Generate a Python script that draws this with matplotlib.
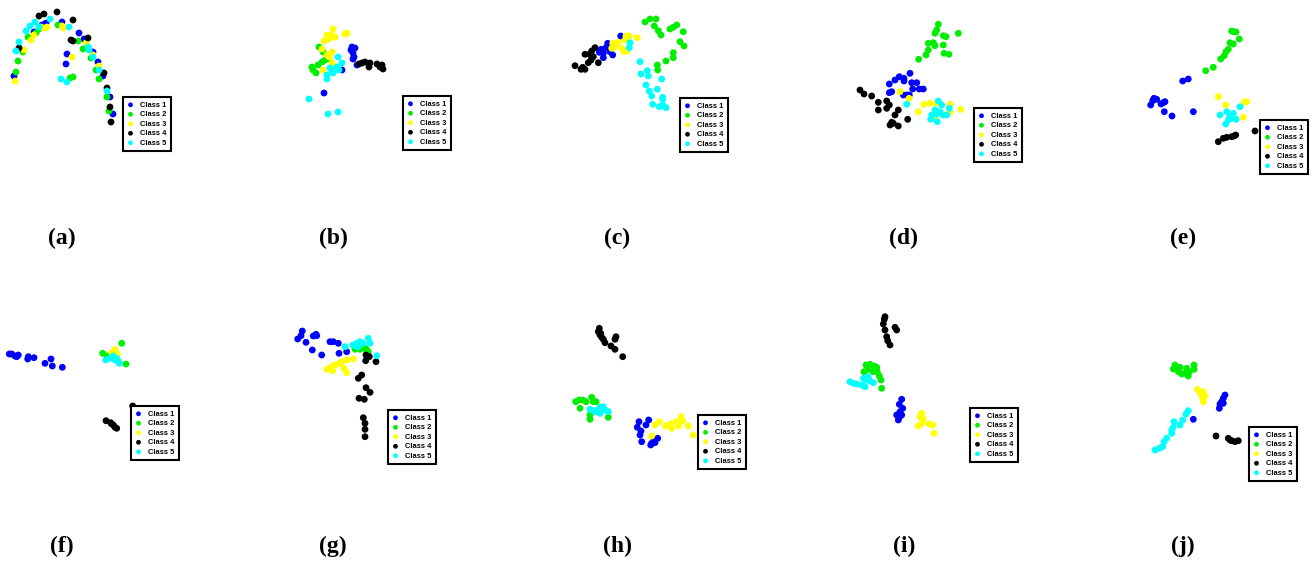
import matplotlib
matplotlib.use("Agg")
import matplotlib.pyplot as plt

classes = ["Class 1", "Class 2", "Class 3", "Class 4", "Class 5"]
colors = ["#0000ff", "#00ee00", "#ffff00", "#000000", "#00ffff"]
labels = ["(a)", "(b)", "(c)", "(d)", "(e)", "(f)", "(g)", "(h)", "(i)", "(j)"]

# embedding coordinates per panel (x right, y down), one list per class
panel_a = {
    "Class 1": [(42, 25), (46, 23), (62, 22), (34, 32), (79, 33), (84, 39), (67, 54), (66, 64),
                (93, 52), (98, 62), (103, 76), (14, 76), (110, 97), (113, 114)],
    "Class 2": [(39, 29), (28, 37), (58, 25), (78, 41), (83, 49), (23, 52), (18, 61), (16, 72),
                (91, 58), (96, 70), (99, 79), (70, 78), (73, 77), (107, 97), (109, 111), (36, 33)],
    "Class 3": [(45, 28), (47, 27), (63, 28), (62, 26), (34, 35), (31, 40), (24, 50), (72, 57),
                (86, 43), (93, 55), (99, 66), (15, 81), (41, 27)],
    "Class 4": [(39, 16), (44, 14), (57, 12), (73, 20), (71, 40), (73, 41), (88, 38), (19, 48),
                (104, 73), (107, 88), (110, 107), (111, 122)],
    "Class 5": [(50, 19), (35, 22), (30, 26), (26, 31), (19, 42), (16, 51), (69, 27), (88, 47),
                (93, 57), (99, 70), (61, 79), (67, 82), (107, 91), (39, 27), (89, 50)],
}
panel_b = {
    "Class 1": [(89, 47), (92, 48), (88, 50), (90, 53), (91, 57), (90, 59), (94, 65), (79, 70), (61, 93)],
    "Class 2": [(56, 47), (60, 52), (59, 62), (55, 65), (50, 70), (53, 73), (62, 60), (65, 59), (49, 67)],
    "Class 3": [(70, 29), (64, 35), (69, 35), (72, 37), (66, 39), (61, 41), (82, 34), (84, 33),
                (59, 49), (69, 52), (64, 55), (66, 57), (60, 70), (69, 63)],
    "Class 4": [(99, 63), (102, 62), (107, 63), (106, 67), (114, 64), (119, 65), (120, 69), (117, 67), (96, 64)],
    "Class 5": [(75, 57), (79, 63), (74, 67), (69, 70), (70, 73), (64, 75), (64, 79), (76, 70),
                (46, 99), (65, 114), (75, 112), (67, 68)],
}
panel_c = {
    "Class 1": [(94.7, 36), (81.7, 43.3), (80, 47.7), (75, 49.3), (77.3, 53.3), (84, 51.7), (86.7, 55),
                (77.3, 57.7), (73.3, 52.3), (82.3, 47.3)],
    "Class 2": [(119, 22), (124, 19), (130, 19), (128.3, 26), (132.3, 30.7), (135, 35), (144, 29),
                (147.3, 27.3), (150.7, 25), (157.3, 31.7), (154, 41.7), (158, 46), (147.3, 52.7),
                (147.3, 57.7), (140, 61), (131.3, 65), (131.7, 70)],
    "Class 3": [(100, 36), (103.3, 36), (111.3, 37.7), (99, 40), (92.3, 42.3), (86.7, 43.3), (95.7, 48.3),
                (98, 51.7), (100.7, 51), (85.7, 48.3), (89, 46.7)],
    "Class 4": [(69, 47.7), (65.7, 51), (63.3, 54.3), (59, 54.3), (65, 60), (72.3, 62.7), (62.3, 62.7),
                (49, 65.7), (56.7, 67.3), (59, 69.3), (55, 69.3), (67.3, 56.7)],
    "Class 5": [(114, 61.7), (121.3, 70.7), (115, 74), (122.3, 76), (135.7, 79), (120, 85), (131.3, 89.3),
                (123.3, 91), (125.7, 96), (136.7, 97.3), (136.7, 99.3), (126.7, 104.3), (133.3, 106.7),
                (140, 107.7), (136.7, 105), (104, 42.7), (103.3, 47.7)],
}
panel_d = {
    "Class 1": [(121, 73.3), (110.3, 76.7), (115, 78.3), (106, 80), (100.3, 84), (115, 81), (127.7, 82.7),
                (122.7, 82.7), (123.7, 89), (130.3, 89), (134.3, 89), (102.7, 91.7), (100.3, 92.7),
                (114.3, 95), (117.7, 95), (120.3, 95)],
    "Class 2": [(149.3, 24.3), (147.7, 30), (146, 33.3), (154.3, 35.7), (157, 36.7), (169.3, 33.3),
                (139.3, 43.3), (144.3, 42.7), (146, 45.7), (154.3, 45), (139.3, 50), (137, 55),
                (155, 53.3), (160, 54.3), (129.7, 59.3)],
    "Class 3": [(111, 91.7), (120, 98.3), (135, 104.3), (141, 103.3), (129.3, 111.7), (161, 104.3),
                (171.7, 109.3), (147.7, 103.3), (161, 111.7), (146, 116.7)],
    "Class 4": [(71, 90), (75, 94), (82.7, 96), (89.3, 102.3), (97.7, 101), (100.3, 105), (89.3, 110),
                (97.7, 108.3), (109.3, 110), (106, 115), (102.7, 122.3), (104.3, 123.3), (101, 125),
                (109.3, 126), (118.7, 119.3)],
    "Class 5": [(117.7, 104.3), (149.3, 101), (152.7, 105), (146, 110), (151, 111.7), (154.3, 115),
                (142.7, 115), (157.7, 115), (141.7, 119.3), (148.3, 121.7), (160.3, 108.3), (147.7, 114.3)],
}
panel_e = {
    "Class 1": [(136.3, 79), (130.7, 81), (102, 98.3), (104.7, 99.3), (100.7, 100.7), (111.3, 102.7),
                (113, 101.7), (109, 104), (98.7, 105), (112.3, 111.7), (120, 116), (141.3, 111.7)],
    "Class 2": [(181.3, 31.7), (179.7, 31), (184, 32), (187.3, 39), (178, 42.7), (181.3, 44), (176.3, 49.3),
                (174, 51.7), (172.3, 55.7), (168.7, 59), (161.3, 67.3), (153.7, 70.7)],
    "Class 3": [(166.3, 96.7), (173.7, 105), (192.3, 102.3), (194.7, 101.7), (178, 115), (191.3, 117.3)],
    "Class 4": [(203, 131), (183.7, 135), (179.7, 136.7), (174.7, 137.3), (171.3, 138.3), (166.3, 141.7),
                (182, 136)],
    "Class 5": [(188, 106.7), (174.7, 111.7), (168, 115), (181.3, 113.3), (176.3, 120), (179.7, 118.3),
                (184, 119.3), (173.7, 124), (178, 116.7)],
}
panel_f = {
    "Class 1": [(11.7, 46), (15, 48), (18.3, 47), (9.3, 46), (28.3, 48.7), (27.7, 51), (34, 49.7), (51, 51),
                (45, 55.3), (52.3, 58), (62.3, 59.3), (16.7, 48.7)],
    "Class 2": [(121.7, 35.3), (102.7, 45.3), (107.3, 48), (126, 56), (115, 43.7)],
    "Class 3": [(115, 41.3), (111.7, 44.7), (117.3, 46)],
    "Class 4": [(132.7, 98), (106, 112.7), (110.7, 114.7), (113.3, 117), (115, 119.3), (111.7, 116),
                (116.7, 120.3)],
    "Class 5": [(113.3, 48), (116.7, 50.3), (110, 50.3), (105.7, 52), (119.3, 55.3), (115, 52), (118.3, 53)],
}
panel_g = {
    "Class 1": [(39.3, 23), (38, 27.7), (34.7, 31), (43, 34.3), (50.3, 28), (53, 26.3), (53.7, 27.7),
                (67, 33.7), (70.3, 33.7), (75.3, 35.3), (49.3, 42), (58.7, 47), (76, 45.3), (83.7, 43.7)],
    "Class 2": [(92, 41.3), (97, 41.3), (102, 40.3), (105.3, 43.7), (103.7, 42)],
    "Class 3": [(63.7, 61.3), (68.7, 58.7), (69.7, 62.7), (72, 57), (76.3, 55.3), (78.7, 53.7), (83.7, 52),
                (90.3, 51), (81, 60.3), (83.7, 64.7), (67, 60.3)],
    "Class 4": [(103, 47), (106.3, 48.7), (102.7, 52.7), (113, 53.7), (98.7, 67), (95.3, 70.3), (103, 79.7),
                (107, 84.3), (96, 90.3), (101.3, 91.3), (100.3, 109.7), (102, 115.3), (102, 121.3),
                (102, 128.7)],
    "Class 5": [(82, 38.7), (89.7, 37), (93.7, 35.3), (97, 33.7), (100.3, 35.3), (105.3, 30.3), (107, 35.3),
                (95.3, 38.7), (113.7, 47.7), (93, 38)],
}
panel_h = {
    "Class 1": [(113, 113.7), (122.7, 112), (111.3, 119.3), (120, 117), (115, 123), (114, 127), (115.7, 133.7),
                (124.7, 137), (128, 132), (131.7, 130.3), (129, 134.7), (125.7, 135.3)],
    "Class 2": [(49.7, 93.7), (53, 92), (56.7, 92), (60, 93.7), (65.7, 89.3), (67.3, 93.7), (70, 93.7),
                (54, 100.3), (64, 107), (64, 111.3), (82.3, 109.3)],
    "Class 3": [(129, 117), (133.3, 113.7), (139.7, 118), (144, 116), (145.7, 120.3), (150, 113.7),
                (152.3, 118), (155, 108.7), (156.7, 113), (162.3, 118), (167.3, 127), (125.7, 128)],
    "Class 4": [(73.3, 20.3), (72.3, 23.7), (74, 27), (75.7, 29.3), (77.3, 31.3), (79, 34.7), (90, 28.7),
                (89, 31.3), (85, 38), (89, 41.3), (96.7, 48.7), (74.7, 25.3)],
    "Class 5": [(64, 101.3), (67.3, 102.7), (71.3, 102), (74, 99.3), (77.3, 98.7), (79, 102), (82.3, 103.7),
                (74, 105.3), (70, 103.7)],
}
panel_i = {
    "Class 1": [(112.7, 91.3), (110.3, 96.3), (113.7, 100.3), (111, 103.7), (107.7, 107), (110.3, 109.3),
                (109.3, 112), (112.7, 107)],
    "Class 2": [(77, 57), (81, 56.3), (85, 58), (87.7, 59.3), (75, 63.7), (79.3, 61.3), (88.3, 63.7),
                (90.3, 68), (92, 72), (92.7, 80.3), (84.3, 63.7)],
    "Class 3": [(132.7, 105.3), (131, 108.7), (134.3, 112), (132.7, 115.3), (129.3, 118), (140.3, 116),
                (143.7, 117), (145, 125.3), (133.7, 110.3)],
    "Class 4": [(96, 8.7), (95.3, 11.3), (94.3, 16), (96, 22), (106, 19.3), (107.7, 22), (97.7, 28.7),
                (98.7, 32.7), (101, 37)],
    "Class 5": [(61, 73.7), (64.3, 75.3), (67.7, 76), (74.3, 70.3), (77.7, 72), (81, 72.7), (84.3, 74.7),
                (76, 78.7), (72.7, 77), (79.3, 68.7)],
}
panel_j = {
    "Class 1": [(173, 87), (171.3, 90.3), (169.7, 93.7), (168, 96), (167.3, 100.3), (171.3, 95.3), (141.3, 111.3)],
    "Class 2": [(123, 57), (124.7, 59.3), (121.3, 61), (128, 59.3), (126.3, 63.7), (129.7, 66), (134.7, 60.3),
                (137.3, 63.7), (136.3, 68), (142, 57), (142, 61.3), (133, 65.3)],
    "Class 3": [(145.3, 81.3), (148, 84.7), (151.3, 83.7), (149.7, 87), (153, 88), (150.7, 91.3), (151.3, 93.7)],
    "Class 4": [(164, 128), (176.3, 130.3), (179.7, 132.7), (183, 133.7), (186.3, 132.7), (178, 132)],
    "Class 5": [(136.3, 102.7), (134, 106), (130.7, 112), (128, 117), (122, 113.7), (121.3, 119.3),
                (119.7, 125.3), (114.7, 130.3), (112, 133.7), (110.7, 138.7), (107.3, 140.3), (103, 142),
                (119.7, 122)],
}

panels = [panel_a, panel_b, panel_c, panel_d, panel_e, panel_f, panel_g, panel_h, panel_i, panel_j]

# layout (pixels)
W, H = 1314, 561
col_x = [0, 263, 526, 789, 1052]
row_y = [0, 308]
pw, ph = 263, 253
legend_pos = [(123, 97), (140, 96), (154, 98), (185, 108), (208, 120),
              (131, 98), (125, 102), (172, 107), (181, 100), (197, 119)]
label_x = [62, 70, 91, 115, 131, 62, 70, 91, 115, 131]
label_y = 238

fig = plt.figure(figsize=(W / 100, H / 100), dpi=100)

for k, data in enumerate(panels):
    r, c = divmod(k, 5)
    x0, y0 = col_x[c], row_y[r]
    ax = fig.add_axes([x0 / W, 1 - (y0 + ph) / H, pw / W, ph / H])
    ax.set_xlim(0, pw)
    ax.set_ylim(ph, 0)
    ax.axis("off")
    for name, col in zip(classes, colors):
        pts = data[name]
        ax.scatter([p[0] for p in pts], [p[1] for p in pts], s=24, color=col,
                   edgecolors="none", label=name)
    leg = ax.legend(loc="upper left", bbox_to_anchor=legend_pos[k], bbox_transform=ax.transData,
                    borderaxespad=0, frameon=True, fancybox=False, framealpha=1,
                    prop={"family": "Liberation Sans", "weight": "bold", "size": 5.4},
                    handlelength=0.8, handletextpad=0.9, labelspacing=0.3, borderpad=0.6,
                    markerscale=0.7)
    leg.get_frame().set_edgecolor("black")
    leg.get_frame().set_linewidth(1.5)
    ax.text(label_x[k], label_y, labels[k], ha="center", va="center",
            fontfamily="Liberation Serif", fontweight="bold", fontsize=17)

fig.savefig("out.png", dpi=100)
